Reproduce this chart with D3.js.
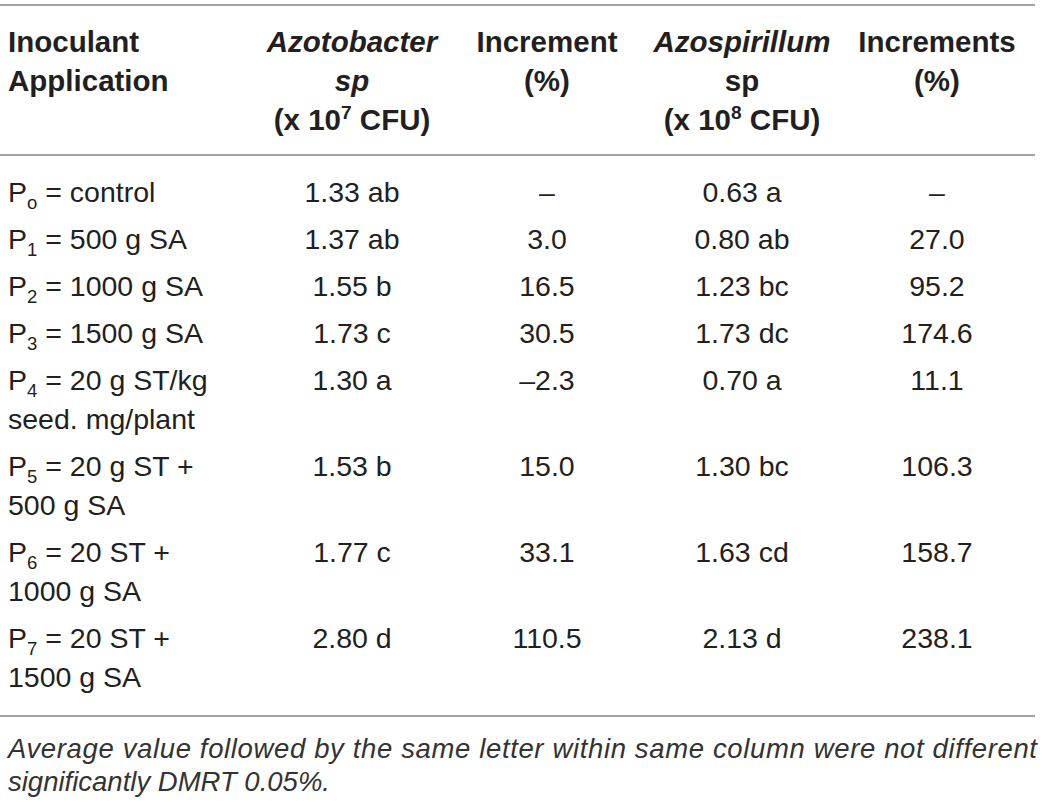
<!DOCTYPE html>
<html>
<head lang="en">
    <meta charset="UTF-8">
    <title></title>
    <style>
        body { margin: 0; background: #fff; }
        text { font-family: "Liberation Sans", Arial, sans-serif; fill: #231f20; }
    </style>
</head>
<body>
<svg width="1042" height="802"></svg>
<script src="https://cdn.jsdelivr.net/npm/d3@7"></script>
<script>
    // table contents
    var headerLines = [
        ["Inoculant", "Application"],
        ["Azotobacter", "sp", "(x 10^7 CFU)"],
        ["Increment", "(%)"],
        ["Azospirillum", "sp", "(x 10^8 CFU)"],
        ["Increments", "(%)"]
    ];
    var treatmentSub = ["o", "1", "2", "3", "4", "5", "6", "7"];
    var treatmentText = [
        [" = control"],
        [" = 500 g SA"],
        [" = 1000 g SA"],
        [" = 1500 g SA"],
        [" = 20 g ST/kg", "seed. mg/plant"],
        [" = 20 g ST +", "500 g SA"],
        [" = 20 ST +", "1000 g SA"],
        [" = 20 ST +", "1500 g SA"]
    ];
    var azotobacter = ["1.33 ab", "1.37 ab", "1.55 b", "1.73 c", "1.30 a", "1.53 b", "1.77 c", "2.80 d"];
    var azotoIncrement = ["\u2013", "3.0", "16.5", "30.5", "\u20132.3", "15.0", "33.1", "110.5"];
    var azospirillum = ["0.63 a", "0.80 ab", "1.23 bc", "1.73 dc", "0.70 a", "1.30 bc", "1.63 cd", "2.13 d"];
    var azospIncrement = ["\u2013", "27.0", "95.2", "174.6", "11.1", "106.3", "158.7", "238.1"];
    var footnote = [
        "Average value followed by the same letter within same column were not different",
        "significantly DMRT 0.05%."
    ];

    var svg = d3.select("svg"),
            LEFT = 8,
            RULE_END = 1035,
            LINE_H = 39,
            ROW_PAD = 8,
            HEAD_FONT = 29.5,
            FONT = 28.5;

    var valueCols = [azotobacter, azotoIncrement, azospirillum, azospIncrement];

    // column centres for the four value columns
    var xScale = d3.scalePoint()
            .domain(d3.range(valueCols.length))
            .range([352, 937]);

    // rows grow with the number of lines in the treatment label
    var rowHeights = treatmentText.map(function (d) { return d.length * LINE_H + ROW_PAD; });
    var rowOffsets = [0].concat(Array.from(d3.cumsum(rowHeights)));
    var total = rowOffsets[rowOffsets.length - 1];
    var yScale = d3.scaleLinear()
            .domain([0, total])
            .range([202, 202 + total]);

    // rules
    var rules = [5, 155, 716];
    svg.selectAll("line.rule")
            .data(rules)
            .enter().append("line")
            .attr("class", "rule")
            .attr("x1", 0)
            .attr("x2", RULE_END)
            .attr("y1", function (d) { return d; })
            .attr("y2", function (d) { return d; })
            .attr("stroke", "#a3a3a3")
            .attr("stroke-width", 2);

    // header
    var italicCells = {"1-0": true, "1-1": true, "3-0": true};
    var headY = d3.scaleLinear().domain([0, 1]).range([52, 91]);
    headerLines.forEach(function (lines, c) {
        lines.forEach(function (txt, l) {
            var t = svg.append("text")
                    .attr("x", c === 0 ? LEFT : xScale(c - 1))
                    .attr("y", headY(l))
                    .attr("text-anchor", c === 0 ? "start" : "middle")
                    .attr("font-size", HEAD_FONT)
                    .attr("font-weight", "bold")
                    .attr("font-style", italicCells[c + "-" + l] ? "italic" : "normal");
            var parts = txt.split(/\^(\d)/);
            if (parts.length === 1) {
                t.text(txt);
            } else {
                t.append("tspan").text(parts[0]);
                t.append("tspan").attr("dy", -11).attr("font-size", HEAD_FONT * 0.65).text(parts[1]);
                t.append("tspan").attr("dy", 11).text(parts[2]);
            }
        });
    });

    // body rows
    treatmentText.forEach(function (lines, r) {
        var y0 = yScale(rowOffsets[r]);
        lines.forEach(function (txt, l) {
            var t = svg.append("text")
                    .attr("x", LEFT)
                    .attr("y", y0 + l * LINE_H)
                    .attr("font-size", FONT);
            if (l === 0) {
                t.append("tspan").text("P");
                t.append("tspan").attr("dy", 7).attr("font-size", FONT * 0.65).text(treatmentSub[r]);
                t.append("tspan").attr("dy", -7).text(txt);
            } else {
                t.text(txt);
            }
        });
        valueCols.forEach(function (col, c) {
            svg.append("text")
                    .attr("x", xScale(c))
                    .attr("y", y0)
                    .attr("text-anchor", "middle")
                    .attr("font-size", FONT)
                    .text(col[r]);
        });
    });

    // footnote
    svg.selectAll("text.note")
            .data(footnote)
            .enter().append("text")
            .attr("class", "note")
            .attr("x", LEFT)
            .attr("y", function (d, i) { return 758 + i * 33; })
            .attr("font-size", 27.5)
            .attr("font-style", "italic")
            .style("fill", "#333")
            .attr("textLength", function (d, i) { return i === 0 ? 1029 : null; })
            .attr("lengthAdjust", "spacing")
            .text(function (d) { return d; });
</script>
</body>
</html>
